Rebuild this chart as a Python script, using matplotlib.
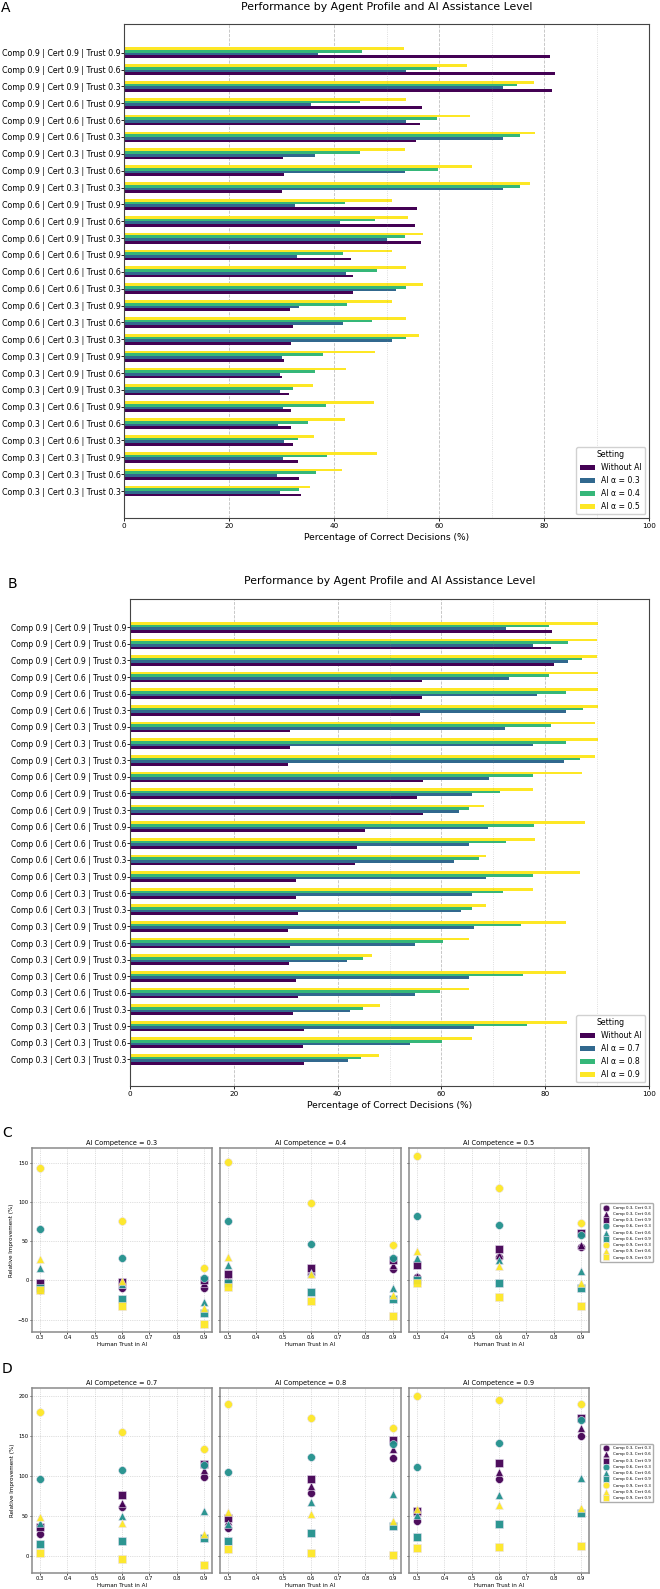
import matplotlib.pyplot as plt
import numpy as np

W, H = 660, 1589

# ---- panels A / B: % correct decisions per agent profile ----
comp_levels = [0.9, 0.6, 0.3]
cert_levels = [0.9, 0.6, 0.3]
trust_levels = [0.9, 0.6, 0.3]
profiles = [f"Comp {c} | Cert {e} | Trust {t}"
            for c in comp_levels for e in cert_levels for t in trust_levels]

a_without = [81.2, 82.0, 81.5, 56.7, 56.3, 55.7, 30.3, 30.5, 30.1,
             55.8, 55.5, 56.6, 43.2, 43.6, 43.6, 31.7, 32.2, 31.8,
             30.5, 30.1, 31.4, 31.8, 31.8, 32.2, 33.1, 33.4, 33.7]
a_ai03 = [37.0, 53.8, 72.2, 35.6, 53.8, 72.2, 36.3, 53.6, 72.2,
          32.5, 41.2, 50.1, 32.9, 42.2, 51.8, 33.4, 41.8, 51.1,
          30.1, 29.7, 29.8, 30.2, 29.4, 30.4, 30.2, 29.2, 29.8]
a_ai04 = [45.4, 59.6, 74.8, 45.0, 59.7, 75.4, 45.0, 59.8, 75.5,
          42.1, 47.8, 53.6, 41.8, 48.2, 53.8, 42.5, 47.2, 53.8,
          37.9, 36.3, 32.2, 38.5, 35.1, 33.2, 38.6, 36.6, 33.4]
a_ai05 = [53.4, 65.4, 78.1, 53.8, 65.9, 78.2, 53.6, 66.3, 77.4,
          51.0, 54.1, 57.0, 51.0, 53.8, 57.0, 51.0, 53.8, 56.2,
          47.8, 42.2, 36.0, 47.7, 42.1, 36.2, 48.1, 41.6, 35.5]
a_names = ["Without AI", "AI α = 0.3", "AI α = 0.4", "AI α = 0.5"]

b_without = [81.4, 81.1, 81.6, 56.2, 56.2, 55.9, 30.8, 30.9, 30.4,
             56.4, 55.3, 56.4, 45.2, 43.7, 43.3, 32.0, 32.0, 32.4,
             30.5, 30.8, 30.6, 32.0, 32.4, 31.4, 33.5, 33.3, 33.5]
b_ai07 = [72.4, 77.7, 84.3, 73.1, 78.5, 84.1, 72.2, 77.7, 83.7,
          69.2, 65.9, 63.4, 68.9, 65.4, 62.4, 68.5, 65.9, 63.7,
          66.2, 55.0, 41.9, 65.3, 54.9, 42.4, 66.2, 53.9, 42.1]
b_ai08 = [80.7, 84.3, 87.0, 80.7, 84.1, 87.2, 81.2, 84.1, 86.8,
          77.6, 71.2, 65.3, 77.9, 72.4, 67.2, 77.6, 71.9, 65.9,
          75.3, 60.4, 44.8, 75.8, 59.8, 44.9, 76.4, 60.1, 44.6]
b_ai09 = [90.1, 89.9, 89.9, 90.1, 90.1, 90.1, 89.5, 90.2, 89.6,
          87.0, 77.6, 68.3, 87.6, 78.0, 68.5, 86.8, 77.6, 68.5,
          84.1, 65.4, 46.7, 84.1, 65.4, 48.2, 84.2, 65.9, 48.0]
b_names = ["Without AI", "AI α = 0.7", "AI α = 0.8", "AI α = 0.9"]

ref_lines = [50, 70, 90]

# ---- panels C / D: relative improvement (%) vs human trust ----
trust_x = [0.3, 0.6, 0.9]
series_keys = [(0.3, 0.3), (0.3, 0.6), (0.3, 0.9),
               (0.6, 0.3), (0.6, 0.6), (0.6, 0.9),
               (0.9, 0.3), (0.9, 0.6), (0.9, 0.9)]

imp_ai03 = [[-12, -10, -10], [-6, -4, -3], [-3, -2, 0],
            [65, 29, 3], [16, -5, -27], [-10, -24, -42],
            [143, 76, 16], [27, -1, -35], [-12, -32, -55]]
imp_ai04 = [[-1, 8, 15], [1, 12, 20], [8, 16, 26],
            [76, 47, 29], [20, 10, -10], [-3, -15, -23],
            [151, 98, 45], [30, 8, -18], [-8, -26, -45]]
imp_ai05 = [[4, 30, 42], [6, 32, 45], [20, 40, 61],
            [82, 70, 58], [28, 26, 12], [1, -3, -9],
            [158, 118, 73], [38, 18, -3], [-3, -21, -33]]
imp_ai07 = [[27, 61, 98], [38, 66, 107], [36, 76, 115],
            [96, 107, 113], [41, 50, 56], [15, 18, 22],
            [179, 154, 133], [48, 41, 27], [3, -4, -11]]
imp_ai08 = [[35, 78, 122], [44, 87, 133], [47, 96, 144],
            [104, 123, 140], [40, 67, 77], [19, 28, 37],
            [189, 172, 160], [55, 52, 44], [8, 4, 1]]
imp_ai09 = [[44, 96, 150], [55, 105, 160], [56, 116, 172],
            [111, 141, 170], [51, 76, 97], [24, 40, 53],
            [199, 194, 189], [59, 63, 60], [10, 11, 12]]

bar_colors = plt.cm.viridis(np.linspace(0, 1, 4))
comp_colors = {0.3: plt.cm.viridis(0.0), 0.6: plt.cm.viridis(0.5), 0.9: plt.cm.viridis(1.0)}
cert_markers = {0.3: "o", 0.6: "^", 0.9: "s"}


def box(l, t, r, b):
    return [l / W, 1 - b / H, (r - l) / W, (b - t) / H]


def bar_panel(ax, series, names, lab_size):
    n = len(profiles)
    y = np.arange(n)[::-1]
    h = 0.16
    for k, vals in enumerate(series):
        ax.barh(y + (k - 1.5) * h, vals, height=h, color=bar_colors[k], label=names[k])
    ax.set_yticks(y)
    ax.set_yticklabels(profiles, fontsize=lab_size)
    ax.set_ylim(-1.6, n - 1 + 1.7)
    ax.set_xlim(0, 100)
    ax.set_xticks(range(0, 101, 20))
    ax.tick_params(axis="x", labelsize=5.2, length=2.5, pad=1.2, width=0.6)
    ax.tick_params(axis="y", length=2, pad=0.6, width=0.6)
    ax.grid(axis="x", linestyle="--", color="gray", alpha=0.5, linewidth=0.6)
    for v in ref_lines:
        ax.axvline(v, color="gray", linestyle=":", alpha=0.35, linewidth=0.6)
    ax.set_axisbelow(True)
    for s in ax.spines.values():
        s.set_color("#444444")
        s.set_linewidth(0.8)
    ax.set_xlabel("Percentage of Correct Decisions (%)", fontsize=6.6, labelpad=2.5)
    ax.legend(title="Setting", loc="lower right", fontsize=5.6, title_fontsize=5.6,
              framealpha=0.9)


def scatter_row(axes, levels, data):
    for i, (ax, lvl, vals) in enumerate(zip(axes, levels, data)):
        for (c, e), yv in zip(series_keys, vals):
            ax.scatter(trust_x, yv, color=comp_colors[c], marker=cert_markers[e], s=32,
                       edgecolors="#e8e0f0", linewidths=0.4, alpha=0.95,
                       label=f"Comp {c}, Cert {e}", zorder=3)
        ax.set_title(f"AI Competence = {lvl}", fontsize=4.8, pad=2)
        ax.set_xticks(np.arange(0.3, 0.91, 0.1))
        ax.set_xticklabels([f"{v:.1f}" for v in np.arange(0.3, 0.91, 0.1)])
        ax.set_xlim(0.27, 0.93)
        ax.tick_params(labelsize=3.8, length=1.5, pad=0.8, width=0.5)
        ax.grid(True, linestyle=":", color="gray", alpha=0.5, linewidth=0.5)
        ax.set_axisbelow(True)
        for s in ax.spines.values():
            s.set_color("#8a8a8a")
            s.set_linewidth(1.1)
        ax.set_xlabel("Human Trust in AI", fontsize=4.1, labelpad=1.5)
        if i == 0:
            ax.set_ylabel("Relative Improvement (%)", fontsize=4.1, labelpad=3)
        else:
            ax.tick_params(labelleft=False)
    axes[-1].legend(loc="center left", bbox_to_anchor=(1.05, 0.54), fontsize=2.9,
                    handletextpad=0.6, borderpad=0.6, labelspacing=0.55,
                    markerscale=0.85, edgecolor="#999999")


fig = plt.figure(figsize=(W / 100, H / 100), dpi=100)

# panel A
axA = fig.add_axes(box(124, 24, 649, 518))
bar_panel(axA, [a_without, a_ai03, a_ai04, a_ai05], a_names, 5.7)
fig.text(386.5 / W, 1 - 7 / H, "Performance by Agent Profile and AI Assistance Level",
         ha="center", va="center", fontsize=7.8)
fig.text(1 / W, 1 - 1 / H, "A", ha="left", va="top", fontsize=10)

# panel B
axB = fig.add_axes(box(130, 599, 649, 1086))
bar_panel(axB, [b_without, b_ai07, b_ai08, b_ai09], b_names, 5.5)
fig.text(389.5 / W, 1 - 581 / H, "Performance by Agent Profile and AI Assistance Level",
         ha="center", va="center", fontsize=7.8)
fig.text(8 / W, 1 - 577 / H, "B", ha="left", va="top", fontsize=10)

# panels C / D
cols = [(32, 212), (220, 401), (409, 589)]
c1 = fig.add_axes(box(cols[0][0], 1148, cols[0][1], 1332))
axesC = [c1] + [fig.add_axes(box(l, 1148, r, 1332), sharey=c1) for l, r in cols[1:]]
scatter_row(axesC, [0.3, 0.4, 0.5], [imp_ai03, imp_ai04, imp_ai05])
fig.text(2 / W, 1 - 1126 / H, "C", ha="left", va="top", fontsize=10)

d1 = fig.add_axes(box(cols[0][0], 1388, cols[0][1], 1573))
axesD = [d1] + [fig.add_axes(box(l, 1388, r, 1573), sharey=d1) for l, r in cols[1:]]
scatter_row(axesD, [0.7, 0.8, 0.9], [imp_ai07, imp_ai08, imp_ai09])
fig.text(2 / W, 1 - 1362 / H, "D", ha="left", va="top", fontsize=10)

fig.savefig("out.png", dpi=100)
